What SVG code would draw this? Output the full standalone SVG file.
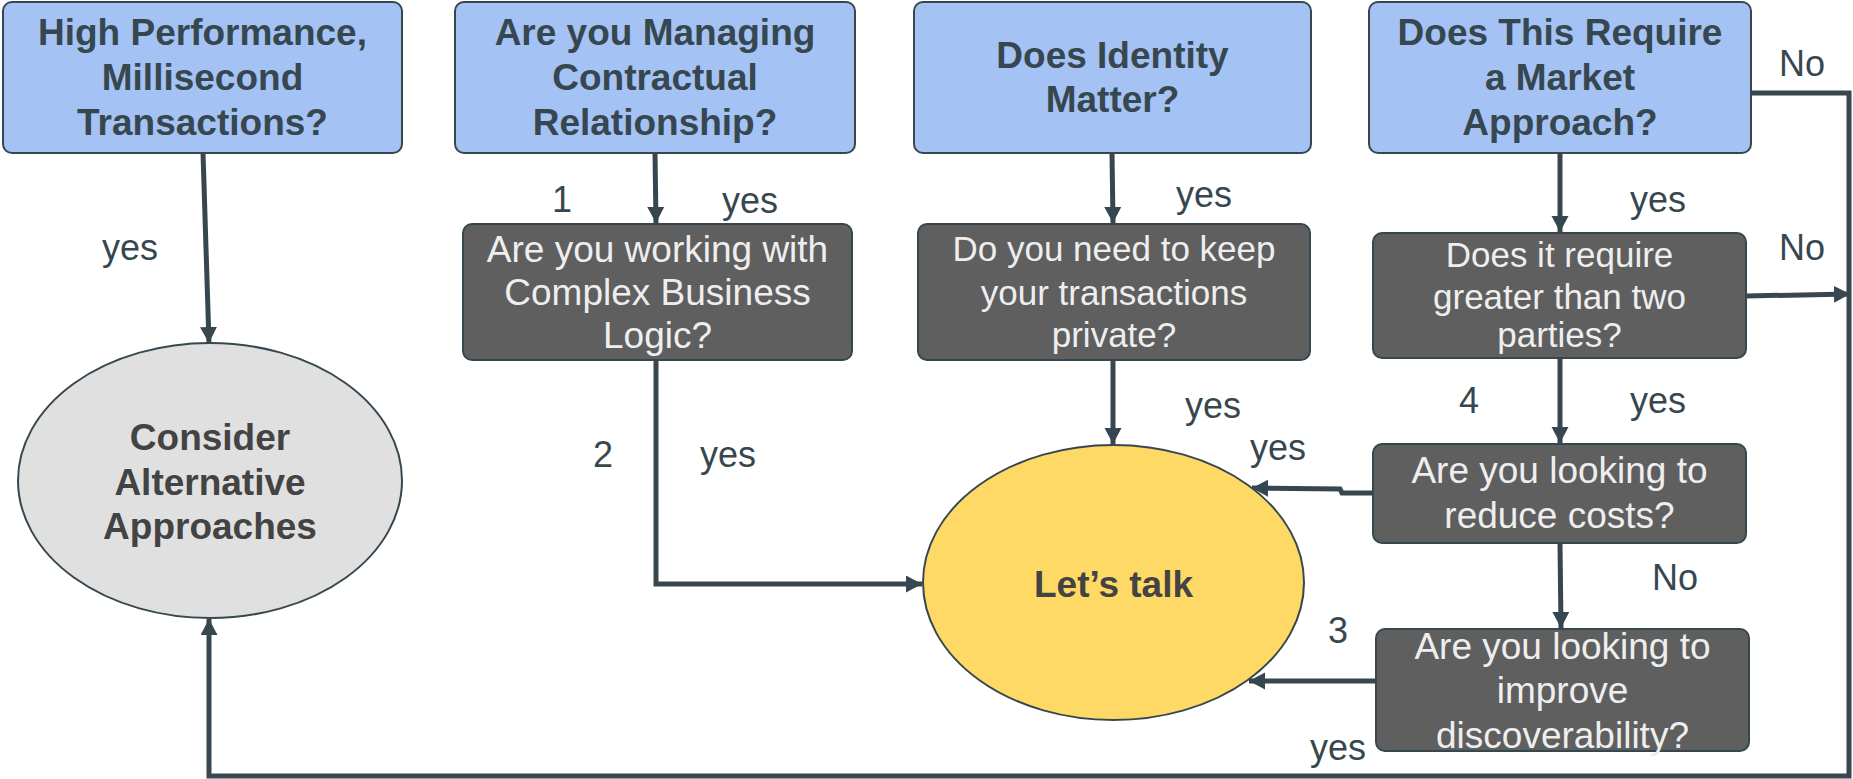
<svg xmlns="http://www.w3.org/2000/svg" width="1853" height="779" viewBox="0 0 1853 779">
<style>
.q{fill:#a4c2f4;stroke:#37474f;stroke-width:2}
.d{fill:#5f5f5f;stroke:#37474f;stroke-width:2}
.tq{font-family:"Liberation Sans",Arial,sans-serif;font-size:37px;font-weight:bold;fill:#37474f;text-anchor:middle}
.td{font-family:"Liberation Sans",Arial,sans-serif;font-size:37px;fill:#eeeeee;text-anchor:middle}
.ts{font-size:35px}
.te{font-family:"Liberation Sans",Arial,sans-serif;font-size:37px;font-weight:bold;fill:#434343;text-anchor:middle}
.lb{font-family:"Liberation Sans",Arial,sans-serif;font-size:36px;fill:#37474f}
.c{fill:none;stroke:#37474f;stroke-width:5}
</style>
<defs>
<marker id="ah" markerUnits="userSpaceOnUse" markerWidth="18" markerHeight="18" refX="16" refY="8.5" orient="auto">
<path d="M0,0 L16,8.5 L0,17 Z" fill="#37474f"/>
</marker>
</defs>
<rect width="1853" height="779" fill="#ffffff"/>
<g id="connectors">
<path class="c" d="M203,153 L209,343" marker-end="url(#ah)" stroke-width="4"/>
<path class="c" d="M655,153 L656,223" marker-end="url(#ah)"/>
<path class="c" d="M656,360 L656,584 L922,584" marker-end="url(#ah)"/>
<path class="c" d="M1112,153 L1113,223" marker-end="url(#ah)"/>
<path class="c" d="M1113,360 L1113,444" marker-end="url(#ah)"/>
<path class="c" d="M1560,153 L1560,232" marker-end="url(#ah)"/>
<path class="c" d="M1751,93 L1849,93 L1849,776 L209,776 L209,619" marker-end="url(#ah)"/>
<path class="c" d="M1746,296 L1850,294" marker-end="url(#ah)"/>
<path class="c" d="M1560,358 L1560,443" marker-end="url(#ah)"/>
<path class="c" d="M1373,493 L1342,493 L1340,489 L1252,488" marker-end="url(#ah)"/>
<path class="c" d="M1560,543 L1561,628" marker-end="url(#ah)"/>
<path class="c" d="M1376,681 L1249,681" marker-end="url(#ah)"/>
</g>
<g id="n-high-performance">
<rect class="q" x="3" y="2" width="399" height="151" rx="9"/>
<text class="tq" x="202.5" y="45">High Performance,</text>
<text class="tq" x="202.5" y="90">Millisecond</text>
<text class="tq" x="202.5" y="135">Transactions?</text>
</g>
<g id="n-contractual">
<rect class="q" x="455" y="2" width="400" height="151" rx="9"/>
<text class="tq" x="655" y="45">Are you Managing</text>
<text class="tq" x="655" y="90">Contractual</text>
<text class="tq" x="655" y="135">Relationship?</text>
</g>
<g id="n-identity">
<rect class="q" x="914" y="2" width="397" height="151" rx="9"/>
<text class="tq" x="1112.5" y="68">Does Identity</text>
<text class="tq" x="1112.5" y="112">Matter?</text>
</g>
<g id="n-market">
<rect class="q" x="1369" y="2" width="382" height="151" rx="9"/>
<text class="tq" x="1560" y="45">Does This Require</text>
<text class="tq" x="1560" y="90">a Market</text>
<text class="tq" x="1560" y="135">Approach?</text>
</g>
<g id="n-business-logic">
<rect class="d" x="463" y="224" width="389" height="136" rx="9"/>
<text class="td" x="657.5" y="262">Are you working with</text>
<text class="td" x="657.5" y="305">Complex Business</text>
<text class="td" x="657.5" y="348">Logic?</text>
</g>
<g id="n-private">
<rect class="d" x="918" y="224" width="392" height="136" rx="9"/>
<text class="td ts" x="1114" y="261">Do you need to keep</text>
<text class="td ts" x="1114" y="305">your transactions</text>
<text class="td ts" x="1114" y="347">private?</text>
</g>
<g id="n-two-parties">
<rect class="d" x="1373" y="233" width="373" height="125" rx="9"/>
<text class="td ts" x="1559.5" y="267">Does it require</text>
<text class="td ts" x="1559.5" y="309">greater than two</text>
<text class="td ts" x="1559.5" y="347">parties?</text>
</g>
<g id="n-reduce-costs">
<rect class="d" x="1373" y="444" width="373" height="99" rx="9"/>
<text class="td" x="1559.5" y="483">Are you looking to</text>
<text class="td" x="1559.5" y="528">reduce costs?</text>
</g>
<g id="n-discoverability">
<rect class="d" x="1376" y="629" width="373" height="122" rx="9"/>
<text class="td" x="1562.5" y="659">Are you looking to</text>
<text class="td" x="1562.5" y="703">improve</text>
<text class="td" x="1562.5" y="748">discoverability?</text>
</g>
<g id="n-consider">
<ellipse cx="210" cy="480.5" rx="192" ry="137.5" fill="#e0e0e0" stroke="#37474f" stroke-width="2"/>
<text class="te" x="210" y="450">Consider</text>
<text class="te" x="210" y="495">Alternative</text>
<text class="te" x="210" y="539">Approaches</text>
</g>
<g id="n-lets-talk">
<ellipse cx="1113.5" cy="582.5" rx="190.5" ry="137.5" fill="#ffd966" stroke="#37474f" stroke-width="2"/>
<text class="te" x="1113.5" y="597">Let’s talk</text>
</g>
<g id="labels">
<text class="lb" x="102" y="260">yes</text>
<text class="lb" x="552" y="212">1</text>
<text class="lb" x="722" y="213">yes</text>
<text class="lb" x="1176" y="207">yes</text>
<text class="lb" x="1630" y="212">yes</text>
<text class="lb" x="1779" y="76">No</text>
<text class="lb" x="1779" y="260">No</text>
<text class="lb" x="593" y="467">2</text>
<text class="lb" x="700" y="467">yes</text>
<text class="lb" x="1185" y="418">yes</text>
<text class="lb" x="1250" y="460">yes</text>
<text class="lb" x="1459" y="413">4</text>
<text class="lb" x="1630" y="413">yes</text>
<text class="lb" x="1652" y="590">No</text>
<text class="lb" x="1328" y="643">3</text>
<text class="lb" x="1310" y="760">yes</text>
</g>
</svg>
